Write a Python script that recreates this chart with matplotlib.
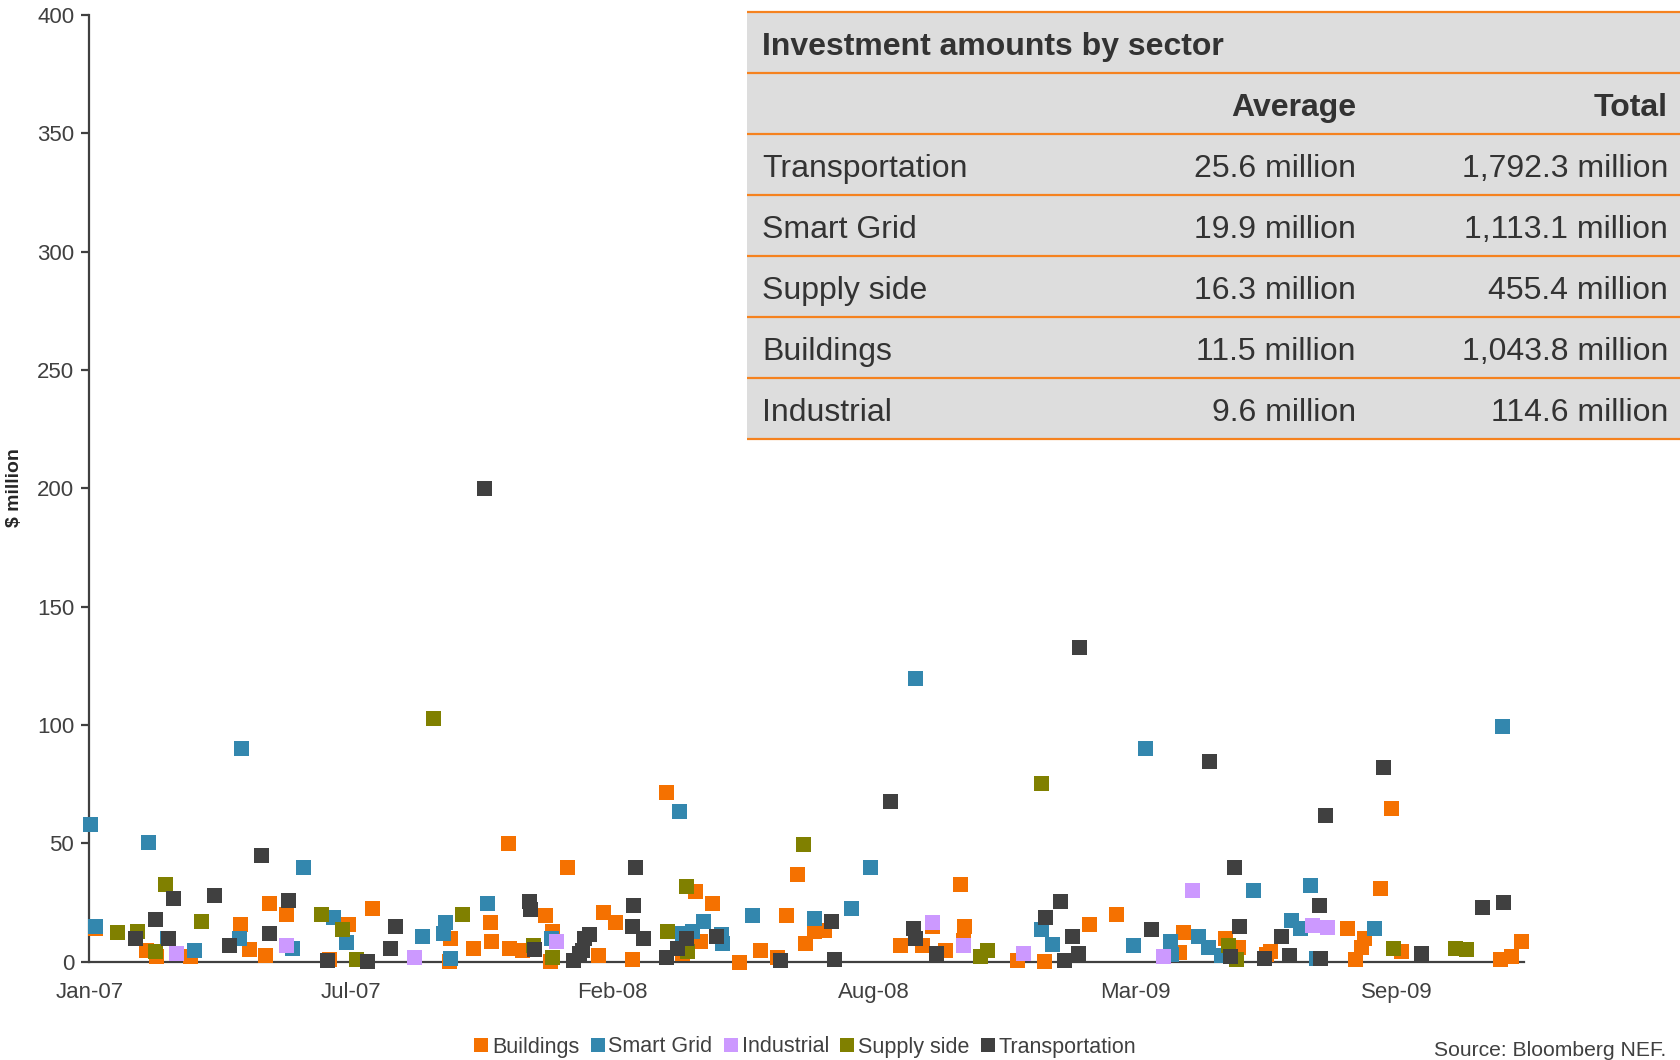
import matplotlib.pyplot as plt
import pandas as pd
from matplotlib.lines import Line2D

plt.rcParams['font.family'] = ['Liberation Sans', 'DejaVu Sans']

# %%
# Deal sizes ($ million) by announcement date, one pair of lists per sector
buildings_dates = ['2007-01-05', '2007-02-13', '2007-02-21', '2007-03-19', '2007-04-26',
                   '2007-05-03', '2007-05-15', '2007-05-18', '2007-05-31', '2007-07-18',
                   '2007-07-03', '2007-08-05', '2007-10-04', '2007-10-03', '2007-11-03',
                   '2007-10-21', '2007-11-04', '2007-11-17', '2007-11-18', '2007-11-28',
                   '2007-12-15', '2007-12-21', '2007-12-19', '2008-03-17', '2008-01-01',
                   '2008-06-25', '2008-10-28', '2008-04-08', '2008-04-21', '2008-06-17',
                   '2008-01-29', '2008-02-07', '2008-04-12', '2008-01-25', '2008-02-20',
                   '2008-03-29', '2008-05-12', '2008-05-28', '2008-06-10', '2008-07-01',
                   '2008-07-08', '2008-07-16', '2008-09-12', '2008-09-29', '2008-10-06',
                   '2008-10-16', '2008-10-31', '2008-10-30', '2008-12-10', '2008-12-31',
                   '2009-02-03', '2009-02-24', '2009-04-16', '2009-04-13', '2009-05-18',
                   '2009-05-28', '2009-06-22', '2009-06-19', '2009-09-14', '2009-09-22',
                   '2009-08-20', '2009-09-02', '2009-08-30', '2009-08-26', '2009-09-30',
                   '2009-12-15', '2009-12-23', '2009-12-31']
buildings_vals = [14, 4.9, 2.4, 2.5, 15.9,
                  5.4, 2.8, 24.9, 20, 15.9,
                  1, 22.8, 9.9, 0.3, 16.5,
                  5.9, 8.5, 50, 5.9, 4.9,
                  19.7, 12.7, 0.3, 71.8, 39.9,
                  36.9, 32.8, 29.9, 24.6, 19.7,
                  20.8, 16.5, 8.7, 2.8, 1.1,
                  3.5, 0, 4.9, 2.1, 7.7,
                  12.7, 13.4, 6.8, 7, 14.8,
                  4.9, 14.8, 9.2, 0.7, 0.3,
                  15.9, 20, 12.3, 4.1, 10.1,
                  6.2, 4.5, 3.1, 31, 64.8,
                  14.1, 10.1, 6.2, 1, 4.5,
                  1, 2.4, 8.7]

smartgrid_dates = ['2007-01-01', '2007-01-05', '2007-02-15', '2007-03-01', '2007-03-22',
                   '2007-04-25', '2007-04-27', '2007-06-05', '2007-06-13', '2007-07-06',
                   '2007-07-16', '2007-09-12', '2007-09-28', '2007-09-30', '2007-10-04',
                   '2007-11-01', '2007-12-20', '2008-03-27', '2008-08-20', '2008-05-22',
                   '2008-07-08', '2008-08-05', '2008-04-14', '2008-04-06', '2008-03-29',
                   '2008-04-28', '2008-04-29', '2008-09-23', '2008-12-29', '2009-01-06',
                   '2009-03-09', '2009-03-18', '2009-04-06', '2009-04-07', '2009-04-28',
                   '2009-05-05', '2009-05-15', '2009-06-09', '2009-07-22', '2009-07-08',
                   '2009-07-15', '2009-07-27', '2009-09-09', '2009-12-16']
smartgrid_vals = [58, 15, 50.7, 9.9, 4.9,
                  9.9, 90.1, 5.9, 39.9, 19,
                  8.2, 10.8, 12, 16.9, 1.4,
                  24.9, 9.9, 63.4, 39.9, 19.7,
                  18.3, 22.8, 17.2, 12.7, 12,
                  11.5, 7.7, 120, 13.8, 7.5,
                  7, 90.1, 8.5, 3.1, 10.8,
                  6.2, 2.8, 30.1, 32.3, 17.5,
                  14.1, 1.3, 14.1, 99.7]

industrial_dates = ['2007-03-08', '2007-05-31', '2007-09-06', '2007-12-24', '2008-10-06',
                    '2008-10-30', '2008-12-15', '2009-04-23', '2009-04-01', '2009-07-24',
                    '2009-08-04']
industrial_vals = [3.8, 7, 1.8, 8.5, 16.9,
                   6.8, 3.5, 30.1, 2.4, 15.4,
                   14.4]

supply_dates = ['2007-01-22', '2007-02-06', '2007-02-20', '2007-02-28', '2007-03-27',
                '2007-06-27', '2007-07-13', '2007-07-24', '2007-09-21', '2007-10-13',
                '2007-12-06', '2007-12-21', '2008-03-18', '2008-04-01', '2008-04-02',
                '2008-06-30', '2008-11-17', '2008-11-12', '2008-12-29', '2009-05-21',
                '2009-05-27', '2009-09-24', '2009-11-10', '2009-11-19']
supply_vals = [12.4, 12.7, 4.6, 32.8, 17.3,
               20, 13.8, 1.1, 102.8, 20,
               7, 2.1, 13, 32.1, 4.6,
               49.7, 4.9, 2.4, 75.6, 7,
               1, 5.6, 5.6, 5.2]

transport_dates = ['2007-02-05', '2007-02-20', '2007-03-02', '2007-03-06', '2007-04-06',
                   '2007-04-18', '2007-05-12', '2007-05-18', '2007-06-02', '2007-07-02',
                   '2007-08-01', '2007-08-23', '2007-08-19', '2007-10-30', '2007-12-03',
                   '2007-12-04', '2007-12-07', '2008-09-04', '2008-02-22', '2008-02-21',
                   '2008-02-20', '2008-02-28', '2008-07-21', '2008-04-01', '2008-04-24',
                   '2008-01-18', '2008-01-14', '2008-01-13', '2008-01-10', '2008-01-06',
                   '2008-03-17', '2008-03-25', '2008-06-12', '2008-07-23', '2008-09-22',
                   '2008-09-23', '2008-10-09', '2009-01-12', '2009-01-01', '2009-01-21',
                   '2009-01-26', '2009-01-15', '2009-01-27', '2009-03-23', '2009-05-25',
                   '2009-05-06', '2009-07-29', '2009-08-03', '2009-09-16', '2009-12-01',
                   '2009-12-17', '2009-05-29', '2009-05-22', '2009-06-17', '2009-06-30',
                   '2009-07-06', '2009-07-30', '2009-10-15']
transport_vals = [9.9, 17.9, 9.9, 26.8, 27.9,
                  6.8, 44.8, 12, 25.8, 0.7,
                  0.3, 14.8, 5.9, 200.2, 25.5,
                  22, 5.2, 68, 39.9, 23.7,
                  14.8, 9.9, 17.2, 9.9, 10.6,
                  11.7, 9.9, 4.9, 3.5, 0.7,
                  2.1, 5.6, 0.7, 1.1, 14.1,
                  9.9, 3.5, 25.4, 18.7, 10.8,
                  3.5, 0.7, 132.7, 13.7, 40.1,
                  84.7, 24, 62, 82.4, 23.1,
                  25.1, 15.1, 2.4, 1.3, 10.8,
                  2.7, 1.3, 3.8]

# summary table
table_sectors = ['Transportation', 'Smart Grid', 'Supply side', 'Buildings', 'Industrial']
table_average = ['25.6 million', '19.9 million', '16.3 million', '11.5 million', '9.6 million']
table_total = ['1,792.3 million', '1,113.1 million', '455.4 million', '1,043.8 million', '114.6 million']

x_ticks = pd.date_range('2007-01-01', periods=6, freq='200D')
y_ticks = list(range(0, 401, 50))

# %%
series = [
    ('Buildings', buildings_dates, buildings_vals, '#F57100'),
    ('Smart Grid', smartgrid_dates, smartgrid_vals, '#3387AE'),
    ('Industrial', industrial_dates, industrial_vals, '#CC99FF'),
    ('Supply side', supply_dates, supply_vals, '#808000'),
    ('Transportation', transport_dates, transport_vals, '#404040'),
]

W, H = 1681, 1060
fig = plt.figure(figsize=(W / 100, H / 100), dpi=100)
ax = fig.add_axes([89.5 / W, 1 - 961.5 / H, (1524 - 89.5) / W, (961.5 - 15) / H])

txt = '#404040'
for name, d, v, c in series:
    ax.plot(pd.to_datetime(d), v, linestyle='none', marker='s', markersize=10.8,
            markeredgewidth=0, color=c, clip_on=False, zorder=3)

ax.set_xlim(pd.Timestamp('2007-01-01'), pd.Timestamp('2010-01-02'))
ax.set_ylim(0, 400)
ax.set_xticks(x_ticks)
ax.set_xticklabels([t.strftime('%b-%y') for t in x_ticks])
ax.set_yticks(y_ticks)
for s in ['top', 'right']:
    ax.spines[s].set_visible(False)
for s in ['left', 'bottom']:
    ax.spines[s].set_color(txt)
    ax.spines[s].set_linewidth(1.6)
ax.tick_params(axis='x', length=0, pad=15, labelsize=16, labelcolor=txt)
ax.tick_params(axis='y', length=6, width=1.6, color=txt, pad=5, labelsize=16, labelcolor=txt)

fig.text(15 / W, 1 - 488 / H, '$ million', rotation=90, ha='center', va='center',
         fontsize=14, fontweight='bold', color='#262626')

# legend under the plot
handles = [Line2D([], [], linestyle='none', marker='s', markersize=10, markeredgewidth=0, color=c)
           for _, _, _, c in series]
fig.legend(handles, [s[0] for s in series], loc='center', ncol=5, frameon=False,
           bbox_to_anchor=(805 / W, 1 - 1047 / H), fontsize=15.5, handlelength=0.7,
           handletextpad=0.15, columnspacing=0.5, labelcolor=txt, borderaxespad=0)

fig.text(1434 / W, 1 - 1041 / H, 'Source: Bloomberg NEF.', ha='left', va='top',
         fontsize=15.2, color=txt)

# %%
# table of averages and totals in the top-right corner
tx0, tx1, ty0, ty1 = 747, 1681, 11.8, 438.5
tax = fig.add_axes([tx0 / W, 1 - ty1 / H, (tx1 - tx0) / W, (ty1 - ty0) / H])
tax.set_xlim(tx0, tx1)
tax.set_ylim(ty1, ty0)
tax.axis('off')
tax.add_patch(plt.Rectangle((tx0, ty0), tx1 - tx0, ty1 - ty0, facecolor='#DDDDDD',
                            edgecolor='none'))
row_h = (ty1 - ty0) / 7
lines = [ty0 + i * row_h for i in range(8)]
tax.hlines(lines, tx0, tx1, colors='#F5821F', linewidth=1.6, clip_on=False)

tcol = '#333333'
fs = 23
off = row_h / 2 + 4.5
tax.text(762, lines[0] + off, 'Investment amounts by sector', ha='left', va='center',
         fontsize=fs, fontweight='bold', color=tcol)
tax.text(1356, lines[1] + off, 'Average', ha='right', va='center',
         fontsize=fs, fontweight='bold', color=tcol)
tax.text(1668, lines[1] + off, 'Total', ha='right', va='center',
         fontsize=fs, fontweight='bold', color=tcol)
for i, (sec, avg, tot) in enumerate(zip(table_sectors, table_average, table_total)):
    yc = lines[i + 2] + off
    tax.text(762, yc, sec, ha='left', va='center', fontsize=fs, color=tcol)
    tax.text(1356, yc, avg, ha='right', va='center', fontsize=fs, color=tcol)
    tax.text(1668, yc, tot, ha='right', va='center', fontsize=fs, color=tcol)

fig.savefig('out.png', dpi=100)
